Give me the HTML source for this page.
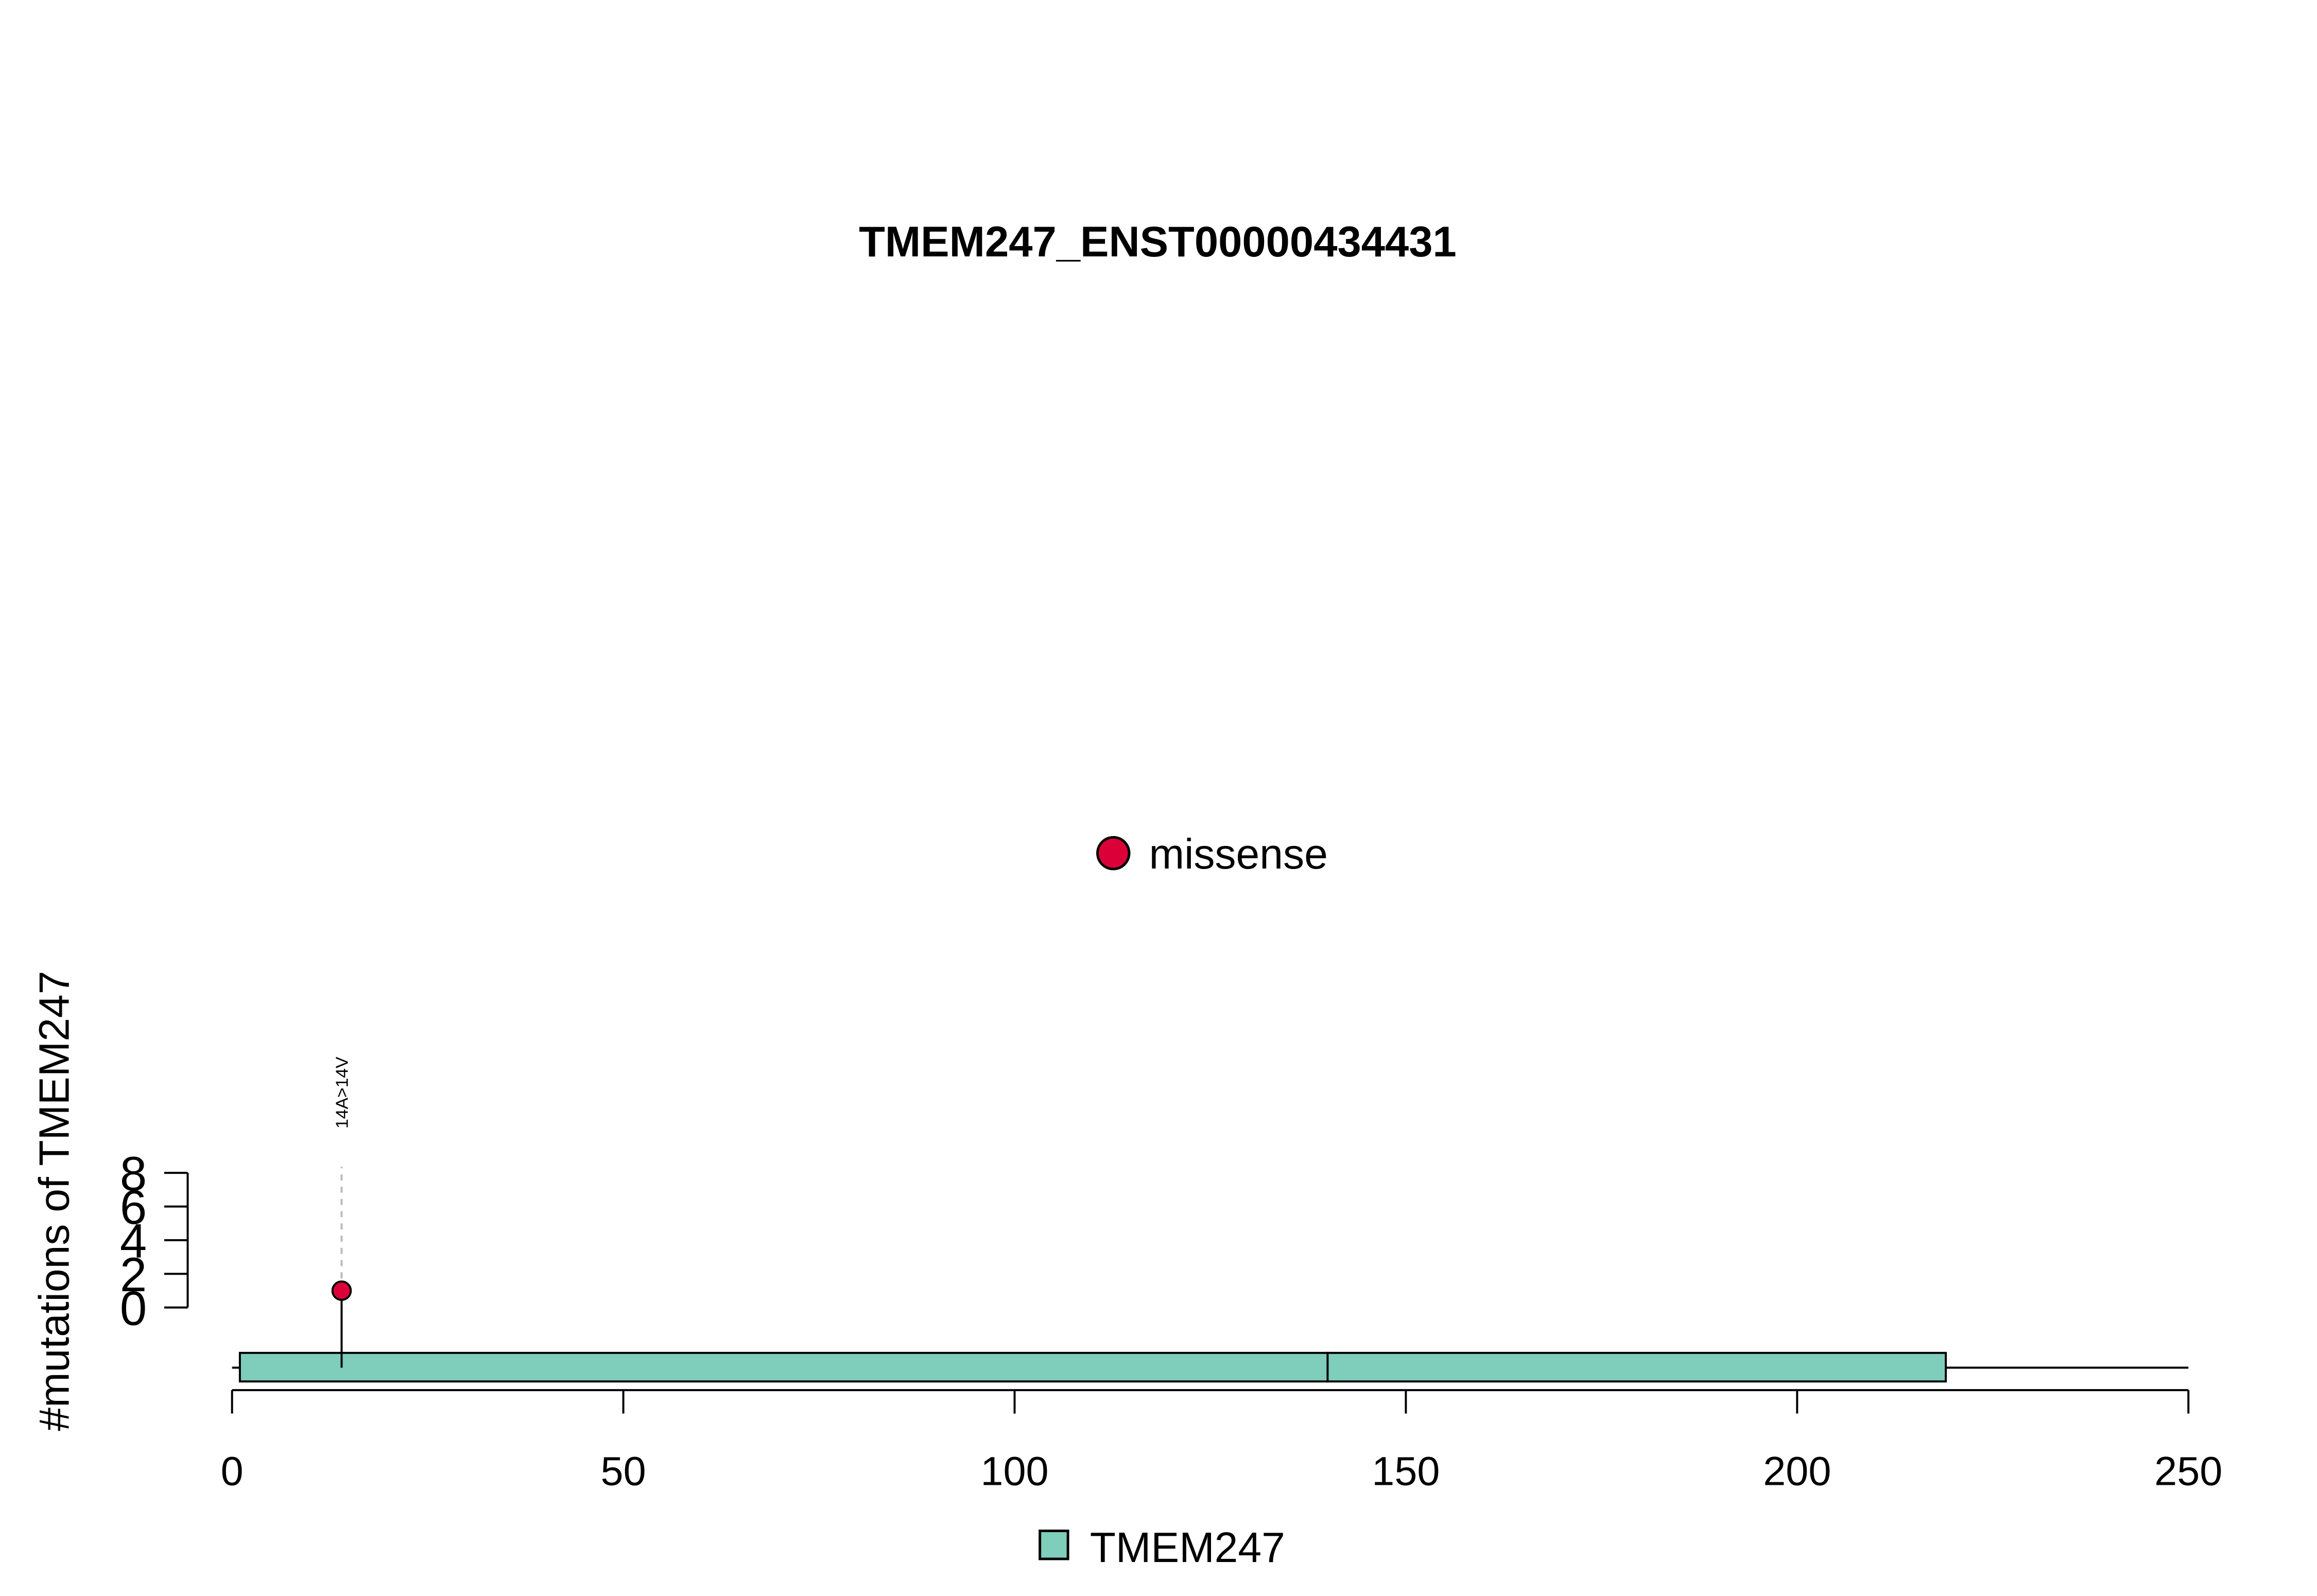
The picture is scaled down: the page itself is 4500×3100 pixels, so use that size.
<!DOCTYPE html>
<html><head><meta charset="utf-8"><style>
html,body{margin:0;padding:0;background:#fff;}
svg{display:block;font-family:"Liberation Sans",Arial,sans-serif;}
</style></head><body>
<svg id="chart" width="4500" height="3100" viewBox="0 0 4500 3100">
<rect width="4500" height="3100" fill="#fff"/>
<g transform="scale(0.9905)">
<text x="2270" y="503" font-size="84" font-weight="bold" text-anchor="middle">TMEM247_ENST00000434431</text>
<g>
<circle cx="2183" cy="1673" r="31" fill="#DC0039" stroke="#000" stroke-width="5"/>
<text x="2253" y="1703" font-size="83">missense</text>
</g>
<text transform="translate(135,2355) rotate(-90)" font-size="83" text-anchor="middle">#mutations of TMEM247</text>
<g id="yaxis"></g>
<g id="xaxis"></g>
<g id="domains"></g>
<g id="muts"></g>
<g>
<rect x="2039" y="3002" width="55" height="55" fill="#7FCDBB" stroke="#000" stroke-width="5"/>
<text x="2137" y="3063" font-size="83">TMEM247</text>
</g>
</g>
</svg>
<script>
const xTicks = [0, 50, 100, 150, 200, 250];
const yTicks = [0, 2, 4, 6, 8];
const proteinLength = 250;
const domainStarts = [1, 140];
const domainEnds = [140, 219];
const mutPositions = [14];
const mutCounts = [1];
const mutLabels = ["14A>14V"];

const NS = "http://www.w3.org/2000/svg";
const X = v => 455 + v * (4291 - 455) / 250;
const Y = v => 2564 - v * (2564 - 2300) / 8;
function mk(tag, attrs, parent) {
  const e = document.createElementNS(NS, tag);
  for (const k in attrs) e.setAttribute(k, attrs[k]);
  parent.appendChild(e);
  return e;
}
const ya = document.getElementById('yaxis');
let l = mk('line', {x1: 368, x2: 368, y1: Y(0), y2: Y(8), stroke: '#000', 'stroke-width': 4}, ya);


yTicks.forEach(t => {
  const tl = mk('line', {x1: 322, x2: 368, y1: Y(t), y2: Y(t), stroke: '#000', 'stroke-width': 4}, ya);
  
  
  const tx = mk('text', {x: 288, y: Y(t) + 34, 'font-size': 95, 'text-anchor': 'end'}, ya);
  tx.textContent = t;
  
  
});
const xa = document.getElementById('xaxis');
l = mk('line', {x1: X(0), x2: X(250), y1: 2726, y2: 2726, stroke: '#000', 'stroke-width': 4}, xa);


xTicks.forEach(t => {
  const tl = mk('line', {x1: X(t), x2: X(t), y1: 2726, y2: 2772, stroke: '#000', 'stroke-width': 4}, xa);
  
  
  const tx = mk('text', {x: X(t), y: 2912, 'font-size': 80, 'text-anchor': 'middle'}, xa);
  tx.textContent = t;
  
  
});
const dg = document.getElementById('domains');
l = mk('line', {x1: X(0), x2: X(proteinLength), y1: 2682, y2: 2682, stroke: '#000', 'stroke-width': 4}, dg);


domainStarts.forEach((s, i) => {
  const r = mk('rect', {x: X(s), y: 2653, width: X(domainEnds[i]) - X(s), height: 56, fill: '#7FCDBB', stroke: '#000', 'stroke-width': 4}, dg);
  
  
});
const mg = document.getElementById('muts');
mutPositions.forEach((p, i) => {
  const x = X(p), y = Y(mutCounts[i]);
  const d = mk('line', {x1: x, x2: x, y1: y, y2: 2288, stroke: '#bbb', 'stroke-width': 4, 'stroke-dasharray': '12,12'}, mg);
  
  
  const s = mk('line', {x1: x, x2: x, y1: 2682, y2: y, stroke: '#000', 'stroke-width': 4}, mg);
  
  
  const c = mk('circle', {cx: x, cy: y, r: 18, fill: '#DC0039', stroke: '#000', 'stroke-width': 4}, mg);
  
  
  const t = mk('text', {transform: `translate(${x + 12},2213) rotate(-90)`, 'font-size': 34}, mg);
  t.textContent = mutLabels[i];
  
  
});
</script>
</body></html>
